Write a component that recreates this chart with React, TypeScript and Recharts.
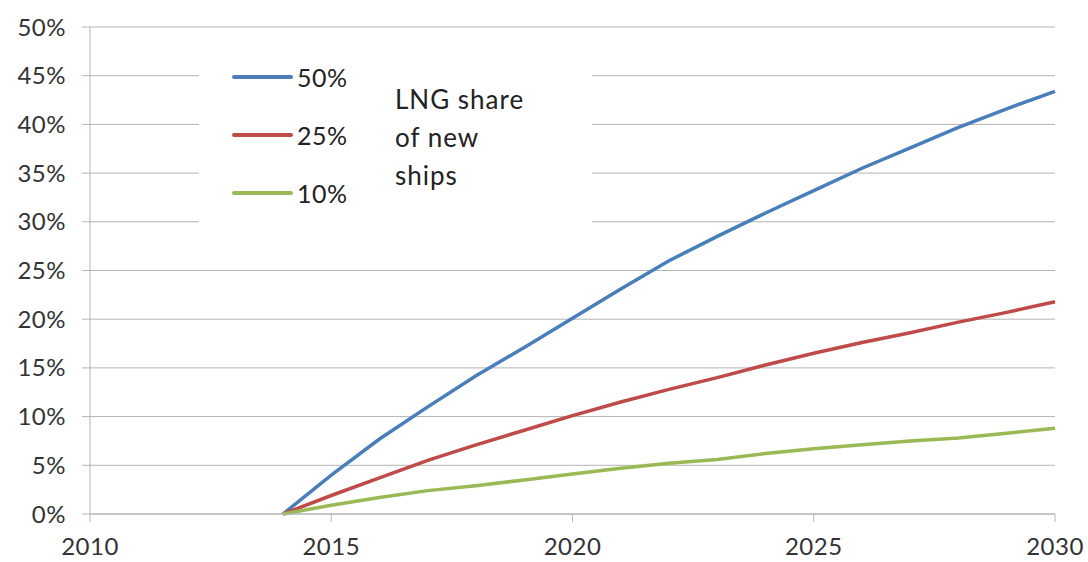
import React from "react";
import { LineChart, Line, XAxis, YAxis, CartesianGrid, Legend } from "recharts";

// years of the projection (series start at 0 in 2014)
const years = [2014, 2015, 2016, 2017, 2018, 2019, 2020, 2021, 2022, 2023, 2024, 2025, 2026, 2027, 2028, 2029, 2030];

// LNG share of the fleet, in %, for each LNG share of new ships
const share50 = [0, 4.0, 7.7, 11.0, 14.2, 17.1, 20.1, 23.1, 26.0, 28.5, 30.9, 33.2, 35.5, 37.6, 39.7, 41.6, 43.4];
const share25 = [0, 1.9, 3.7, 5.5, 7.1, 8.6, 10.1, 11.5, 12.8, 14.0, 15.3, 16.5, 17.6, 18.6, 19.7, 20.7, 21.8];
const share10 = [0, 0.9, 1.7, 2.4, 2.9, 3.5, 4.1, 4.7, 5.2, 5.6, 6.2, 6.7, 7.1, 7.5, 7.8, 8.3, 8.8];

const xTicks = [2010, 2015, 2020, 2025, 2030];
const yTicks = [0, 5, 10, 15, 20, 25, 30, 35, 40, 45, 50];

const seriesNames = ["50%", "25%", "10%"];
const seriesColors = ["#4a7ebb", "#be4b48", "#98b954"];
const noteLines = ["LNG share", "of new", "ships"];

const chartData = years.map((year, i) => ({
    year,
    s50: share50[i],
    s25: share25[i],
    s10: share10[i],
}));

const FONT = "Lato, sans-serif";
const GRID = "#b4b4b4";

// legend box (white, it hides the grid behind it like in the original)
const LegendBox = () => (
    <div style={{ position: "relative", width: 393, height: 186, background: "#fff", fontFamily: FONT, color: "#222" }}>
        {seriesNames.map((name, i) => (
            <div key={name} style={{ position: "absolute", left: 33, top: 12 + i * 58, display: "flex", alignItems: "center", height: 30 }}>
                <div style={{ width: 61, height: 4, borderRadius: 2, background: seriesColors[i] }} />
                <span style={{ fontSize: 25, marginLeft: 4, letterSpacing: 0.5 }}>{name}</span>
            </div>
        ))}
        <div style={{ position: "absolute", left: 196, top: 30, fontSize: 26, lineHeight: "38px", letterSpacing: 1 }}>
            {noteLines.map(t => <div key={t}>{t}</div>)}
        </div>
    </div>
);

export default function App() {
    return (
        <div style={{ position: "absolute", left: 0, top: 0, width: 1088, height: 562, background: "#fff" }}>
            <LineChart width={1088} height={562} data={chartData} margin={{ top: 27, right: 33, left: 0, bottom: 0 }}>
                <CartesianGrid vertical={false} stroke={GRID} />
                <XAxis
                    dataKey="year"
                    type="number"
                    domain={[2010, 2030]}
                    ticks={xTicks}
                    height={48}
                    stroke={GRID}
                    tickSize={8}
                    tickMargin={16}
                    tick={{ fontSize: 24, fill: "#333", fontFamily: FONT, letterSpacing: 0.5 }}
                />
                <YAxis
                    domain={[0, 50]}
                    ticks={yTicks}
                    width={90}
                    stroke={GRID}
                    tickSize={8}
                    tickMargin={16}
                    tickFormatter={(v) => `${v}%`}
                    tick={{ fontSize: 24, fill: "#333", fontFamily: FONT, letterSpacing: 0.5 }}
                />
                <Legend
                    layout="horizontal"
                    verticalAlign="middle"
                    align="center"
                    wrapperStyle={{ left: 199, top: 50, width: 393, height: 186 }}
                    content={() => <LegendBox />}
                />
                <Line type="linear" dataKey="s50" stroke={seriesColors[0]} strokeWidth={3.5} dot={false} isAnimationActive={false} />
                <Line type="linear" dataKey="s25" stroke={seriesColors[1]} strokeWidth={3.5} dot={false} isAnimationActive={false} />
                <Line type="linear" dataKey="s10" stroke={seriesColors[2]} strokeWidth={3.5} dot={false} isAnimationActive={false} />
            </LineChart>
        </div>
    );
}
